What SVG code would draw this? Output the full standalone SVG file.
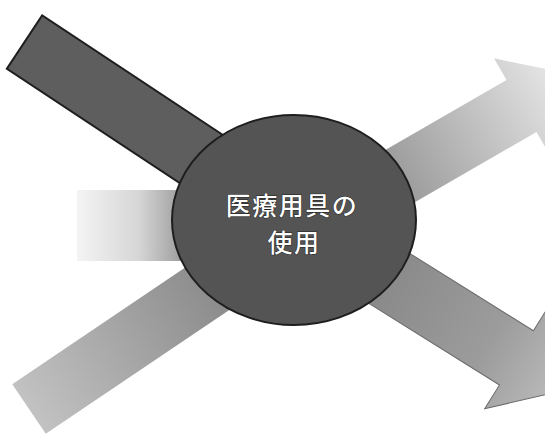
<svg xmlns="http://www.w3.org/2000/svg" width="545" height="438" viewBox="0 0 545 438">
  <style>
    .label { font-family: "Noto Sans CJK JP", "Noto Sans", sans-serif; font-size: 25px; font-weight: 500; letter-spacing: 1.5px; fill: #ffffff; stroke: #1e1e1e; stroke-width: 1px; paint-order: stroke; text-anchor: middle; }
    .dark { fill: #5e5e5e; stroke: #1e1e1e; stroke-width: 2; }
    .hub { fill: #545454; stroke: #1e1e1e; stroke-width: 2; }
  </style>
  <defs>
    <linearGradient id="gUR" gradientUnits="userSpaceOnUse" x1="-10" y1="0" x2="200" y2="0">
      <stop offset="0" stop-color="#9a9a9a"/>
      <stop offset="1" stop-color="#ececec"/>
    </linearGradient>
    <linearGradient id="gBR" gradientUnits="userSpaceOnUse" x1="-20" y1="0" x2="205" y2="0">
      <stop offset="0" stop-color="#888888"/>
      <stop offset="0.6" stop-color="#9c9c9c"/>
      <stop offset="1" stop-color="#bdbdbd"/>
    </linearGradient>
    <linearGradient id="gBL" gradientUnits="userSpaceOnUse" x1="0" y1="0" x2="220" y2="0">
      <stop offset="0" stop-color="#c2c2c2"/>
      <stop offset="1" stop-color="#8c8c8c"/>
    </linearGradient>
    <linearGradient id="gL" gradientUnits="userSpaceOnUse" x1="77" y1="0" x2="180" y2="0">
      <stop offset="0" stop-color="#f4f4f4"/>
      <stop offset="0.6" stop-color="#d6d6d6"/>
      <stop offset="1" stop-color="#a0a0a0"/>
    </linearGradient>
  </defs>
  <rect width="545" height="438" fill="#ffffff"/>
  <g id="connectors">
    <g id="arrow-left-in">
      <rect x="77" y="190" width="130" height="71" fill="url(#gL)"/>
    </g>
    <g id="arrow-bottom-left-in" transform="translate(29,409) rotate(-34)">
      <rect x="0" y="-30" width="270" height="60" fill="url(#gBL)"/>
    </g>
    <g id="arrow-up-right-out" transform="translate(402,175) rotate(-30)">
      <polygon points="-60,-30 138,-30 138,-55 200,0 138,55 138,30 -60,30" fill="url(#gUR)"/>
    </g>
    <g id="arrow-down-right-out" transform="translate(393.5,281) rotate(32)">
      <polygon points="-60,-32 145,-32 145,-60 205,0 145,60 145,32 -60,32" fill="url(#gBR)" stroke="#6a6a6a" stroke-width="1"/>
    </g>
    <g id="arrow-top-left-in" transform="translate(24.5,42) rotate(33.5)">
      <rect x="0" y="-32" width="270" height="64" class="dark"/>
    </g>
  </g>
  <g id="node-center">
    <ellipse cx="294" cy="220" rx="122" ry="105" class="hub"/>
    <text class="label" x="292" y="215">医療用具の</text>
    <text class="label" x="294" y="252">使用</text>
  </g>
</svg>
